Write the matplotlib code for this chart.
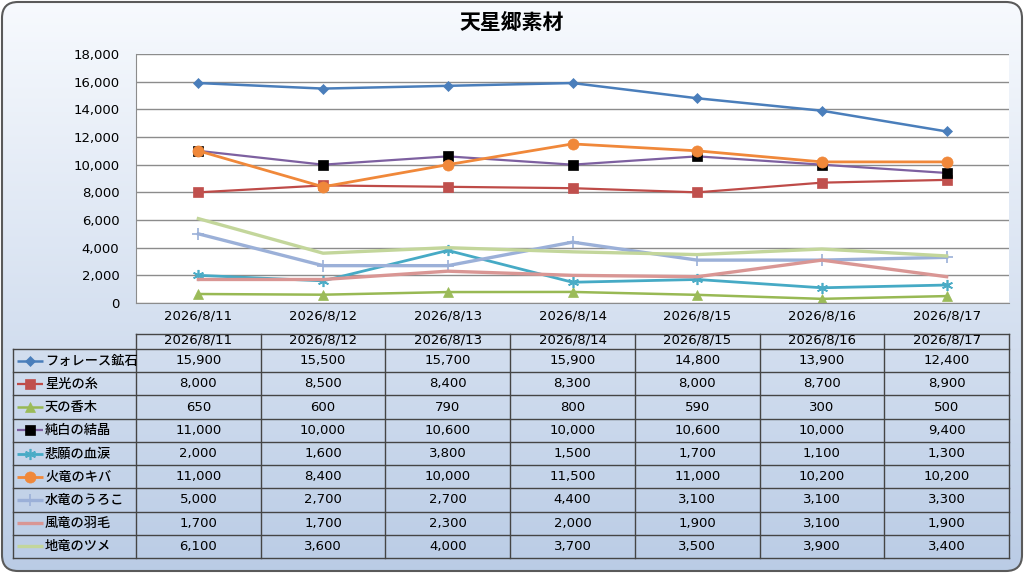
import numpy as np
import matplotlib
matplotlib.use("Agg")
import matplotlib.pyplot as plt
from matplotlib.patches import FancyBboxPatch
from matplotlib.ticker import FuncFormatter

plt.rcParams['font.family'] = ['DejaVu Sans', 'Noto Sans CJK JP']

# data
title = "天星郷素材"
dates = ["2026/8/11", "2026/8/12", "2026/8/13", "2026/8/14", "2026/8/15", "2026/8/16", "2026/8/17"]
names = ["フォレース鉱石", "星光の糸", "天の香木", "純白の結晶", "悲願の血涙",
         "火竜のキバ", "水竜のうろこ", "風竜の羽毛", "地竜のツメ"]
forace = [15900, 15500, 15700, 15900, 14800, 13900, 12400]
seiko = [8000, 8500, 8400, 8300, 8000, 8700, 8900]
koboku = [650, 600, 790, 800, 590, 300, 500]
junpaku = [11000, 10000, 10600, 10000, 10600, 10000, 9400]
hirui = [2000, 1600, 3800, 1500, 1700, 1100, 1300]
karyu = [11000, 8400, 10000, 11500, 11000, 10200, 10200]
suiryu = [5000, 2700, 2700, 4400, 3100, 3100, 3300]
furyu = [1700, 1700, 2300, 2000, 1900, 3100, 1900]
chiryu = [6100, 3600, 4000, 3700, 3500, 3900, 3400]
series = [forace, seiko, koboku, junpaku, hirui, karyu, suiryu, furyu, chiryu]

# style per series: line colour, marker, marker face, marker size, line width
styles = [
    ("#4a7ebb", "D", "#4a7ebb", 5, 1.8),
    ("#be4b48", "s", "#c0504d", 7.5, 1.6),
    ("#98b954", "^", "#9bbb59", 7.5, 1.8),
    ("#7d60a0", "s", "#000000", 7.5, 1.6),
    ("#46aac5", (6, 2, 0), "#4bacc6", 8, 2.0),
    ("#f0883a", "o", "#f0883a", 8, 2.0),
    ("#9bb0d8", "+", "#9bb0d8", 8, 2.4),
    ("#d99694", None, "#d99694", 0, 2.4),
    ("#c3d69b", None, "#c3d69b", 0, 2.4),
]

W, H = 1024, 573
fig = plt.figure(figsize=(W / 100, H / 100), dpi=100)

# background with gradient + rounded frame
bg = fig.add_axes([0, 0, 1, 1])
bg.set_xlim(0, W)
bg.set_ylim(H, 0)
bg.axis("off")
grad = np.linspace(0, 1, 256).reshape(-1, 1)
top = np.array([0.97, 0.98, 0.995])
bot = np.array([0.73, 0.80, 0.90])
img = top + (bot - top) * grad[:, :, None]
im = bg.imshow(img, extent=(0, W, H, 0), aspect="auto", zorder=0)
frame = FancyBboxPatch((2, 2), W - 4, H - 4, boxstyle="round,pad=0,rounding_size=16",
                       fc="none", ec="#5a5a5a", lw=1.5, zorder=2)
bg.add_patch(frame)
im.set_clip_path(frame)

fig.text(512 / W, 1 - 22 / H, title, ha="center", va="center", fontsize=15,
         fontweight="bold", family=["Noto Sans CJK JP", "DejaVu Sans"])

fs = 9.5
fw = "medium"

# main plot area
px_l, px_r, px_t, px_b = 136, 1009, 54, 303
ax = fig.add_axes([px_l / W, 1 - px_b / H, (px_r - px_l) / W, (px_b - px_t) / H])
ax.set_facecolor("white")
x = np.arange(len(dates))
for vals, (c, m, mf, ms, lw) in zip(series, styles):
    ax.plot(x, vals, color=c, lw=lw, marker=m, markersize=ms, markerfacecolor=mf,
            markeredgecolor=mf, markeredgewidth=1.2 if m in ("+", (6, 2, 0)) else 0.5)
ax.set_xlim(-0.5, len(dates) - 0.5)
ax.set_ylim(0, 18000)
ax.set_yticks(np.arange(0, 18001, 2000))
ax.yaxis.set_major_formatter(FuncFormatter(lambda v, p: f"{int(v):,}"))
ax.set_xticks(x)
ax.set_xticklabels(dates)
ax.grid(axis="y", color="#8c8c8c", lw=1.0)
ax.set_axisbelow(True)
for s in ("top", "right"):
    ax.spines[s].set_visible(False)
for s in ("left", "bottom"):
    ax.spines[s].set_color("#8c8c8c")
ax.tick_params(axis="both", length=0, labelsize=fs)
ax.tick_params(axis="y", pad=12)
ax.tick_params(axis="x", pad=5)
for lab in ax.get_xticklabels() + ax.get_yticklabels():
    lab.set_fontweight(fw)

# data table below
t_top, h_bot = 334, 349
row_h = (558 - h_bot) / len(names)
col_w = (px_r - px_l) / len(dates)
lab_l = 13
lc = "#454545"
bg.plot([px_l, px_r], [t_top, t_top], color=lc, lw=1, zorder=3)
bg.plot([px_l, px_l], [t_top, 558], color=lc, lw=1, zorder=3)
for i in range(1, len(dates) + 1):
    xx = px_l + i * col_w
    bg.plot([xx, xx], [t_top, 558], color=lc, lw=1, zorder=3)
bg.plot([lab_l, lab_l], [h_bot, 558], color=lc, lw=1, zorder=3)
for j in range(len(names) + 1):
    yy = h_bot + j * row_h
    bg.plot([lab_l, px_r], [yy, yy], color=lc, lw=1, zorder=3)
for i, d in enumerate(dates):
    bg.text(px_l + (i + 0.5) * col_w, 340, d, ha="center", va="center",
            fontsize=fs, fontweight=fw, zorder=4)
for j, (nm, vals, (c, m, mf, ms, lw)) in enumerate(zip(names, series, styles)):
    yc = h_bot + (j + 0.5) * row_h
    bg.plot([17, 43], [yc, yc], color=c, lw=lw, zorder=4, solid_capstyle="butt")
    if m is not None:
        bg.plot([30], [yc], marker=m, markersize=ms, color=mf, markeredgecolor=mf,
                markeredgewidth=1.2 if m in ("+", (6, 2, 0)) else 0.5, zorder=5)
    bg.text(45, yc, nm, ha="left", va="center", fontsize=fs, fontweight=fw,
            family=["Noto Sans CJK JP", "DejaVu Sans"], zorder=4)
    for i, v in enumerate(vals):
        bg.text(px_l + (i + 0.5) * col_w, yc, f"{v:,}", ha="center", va="center",
                fontsize=fs, fontweight=fw, zorder=4)

fig.savefig("out.png", dpi=100)
